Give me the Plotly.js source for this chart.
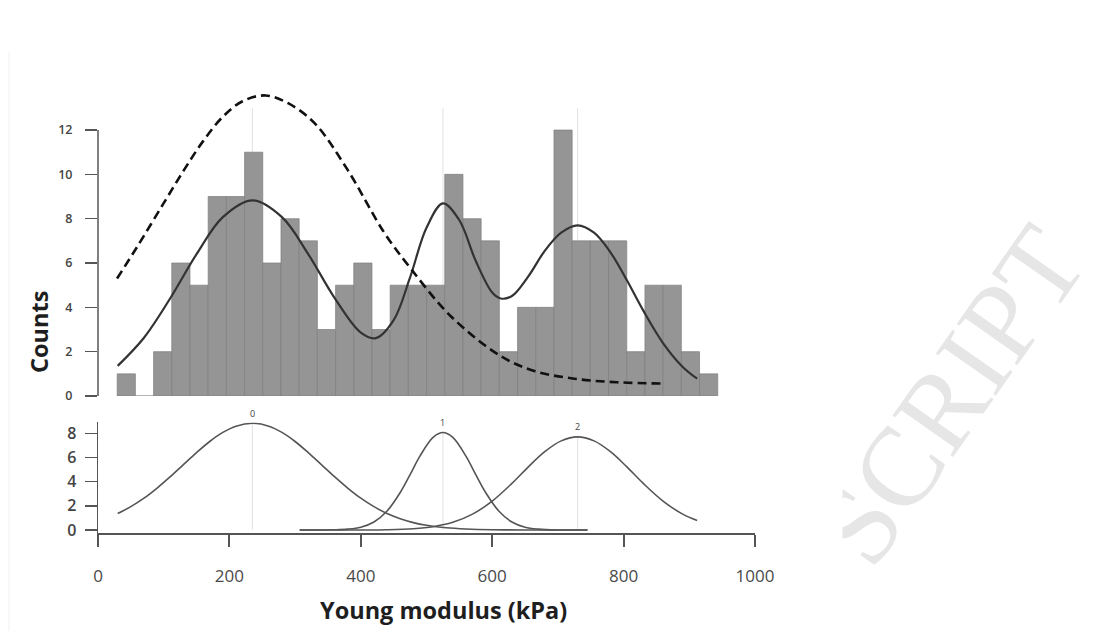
<!DOCTYPE html>
<html>
<head>
<meta charset="utf-8">
<script src="https://cdn.plot.ly/plotly-3.0.1.min.js"></script>
<style>html,body{margin:0;padding:0;background:#fff;}#chart{width:1113px;height:631px;}</style>
</head>
<body>
<div id="chart"></div>
<script>
// ---- Histogram of Young modulus (kPa) ----
const binStart = 29.2;          // left edge of first bin (kPa)
const binWidth = 27.7;          // bin width (kPa)
const counts = [1,0,2,6,5,9,9,11,6,8,7,3,5,6,3,5,5,5,10,8,7,2,4,4,12,7,7,7,2,5,5,2,1];

// ---- Mixture fit (sum of components), upper panel ----
const fitX = [30,70,110,150,190,235,280,320,360,400,423,450,475,500,525,550,575,600,613,630,655,680,705,730,755,780,805,830,860,890,912];
const fitY = [1.36,2.63,4.41,6.40,8.07,8.83,8.07,6.40,4.43,2.86,2.61,3.42,5.35,7.59,8.69,7.93,6.09,4.67,4.40,4.51,5.40,6.55,7.37,7.70,7.37,6.48,5.22,3.85,2.39,1.31,0.78];

// ---- Single-population fit (dashed), upper panel ----
const dashX = [29,60,100,131,160,190,220,255,290,330,380,435,476,537,613,664,725,790,862];
const dashY = [5.3,6.75,8.7,10.2,11.5,12.6,13.3,13.56,13.2,12.3,10.2,7.4,5.75,3.6,1.8,1.13,0.78,0.62,0.56];

// ---- Components, lower panel ----
const comp0X = [30,50,70,90,110,130,150,170,190,210,235,260,280,300,320,340,360,380,400,420,440,460,480,500,530,560,600,660,745];
const comp0Y = [1.36,1.93,2.63,3.47,4.41,5.41,6.40,7.32,8.07,8.59,8.83,8.59,8.07,7.32,6.40,5.41,4.41,3.47,2.63,1.93,1.36,0.93,0.61,0.39,0.18,0.08,0.02,0,0];
const comp1X = [307,360,380,400,420,440,460,475,490,510,525,540,560,575,590,610,630,650,670,700,745];
const comp1Y = [0,0.02,0.07,0.23,0.66,1.57,3.10,4.58,6.11,7.66,8.06,7.66,6.11,4.58,3.10,1.57,0.66,0.23,0.07,0,0];
const comp2X = [307,400,440,480,510,540,570,600,630,655,680,705,730,755,780,805,830,860,890,912];
const comp2Y = [0,0,0.02,0.10,0.27,0.63,1.31,2.39,3.85,5.22,6.48,7.37,7.70,7.37,6.48,5.22,3.85,2.39,1.31,0.78];

const compLabels = ['0','1','2'];
const compMeans = [235,525,730];
const compPeaks = [8.83,8.06,7.70];

const xTicks = [0,200,400,600,800,1000];
const yTicksTop = [0,2,4,6,8,10,12];
const yTicksBottom = [0,2,4,6,8];

const binCenters = counts.map((c,i)=>binStart + binWidth*(i+0.5));

const axisCol = '#555555';
const traces = [
  {type:'bar', x:binCenters, y:counts, width:binWidth, xaxis:'x', yaxis:'y',
   marker:{color:'#959595', line:{color:'#7e7e7e', width:0.7}}, hoverinfo:'x+y'},
  {type:'scatter', mode:'lines', x:fitX, y:fitY, xaxis:'x', yaxis:'y',
   line:{color:'#333333', width:2.2, shape:'spline', smoothing:1}},
  {type:'scatter', mode:'lines', x:dashX, y:dashY, xaxis:'x', yaxis:'y',
   line:{color:'#111111', width:2.6, dash:'9px,5px', shape:'spline', smoothing:1}},
  {type:'scatter', mode:'lines', x:comp0X, y:comp0Y, xaxis:'x', yaxis:'y2',
   line:{color:'#555555', width:1.6, shape:'spline', smoothing:1}},
  {type:'scatter', mode:'lines', x:comp1X, y:comp1Y, xaxis:'x', yaxis:'y2',
   line:{color:'#555555', width:1.6, shape:'spline', smoothing:1}},
  {type:'scatter', mode:'lines', x:comp2X, y:comp2Y, xaxis:'x', yaxis:'y2',
   line:{color:'#555555', width:1.6, shape:'spline', smoothing:1}}
];

const shapes = [];
// faint vertical lines at component means
compMeans.forEach((m,i)=>{
  shapes.push({type:'line', xref:'x', yref:'y', x0:m, x1:m, y0:0, y1:13, layer:'below',
               line:{color:'#e2e2e2', width:1}});
  shapes.push({type:'line', xref:'x', yref:'y2', x0:m, x1:m, y0:0, y1:compPeaks[i], layer:'below',
               line:{color:'#e2e2e2', width:1}});
});
// upper y-axis line (only spans the tick range 0..12)
shapes.push({type:'line', xref:'paper', yref:'y', x0:0, x1:0, y0:0, y1:12,
             line:{color:axisCol, width:1.5}});
// faint frame edge of the figure image
shapes.push({type:'line', xref:'paper', yref:'paper', x0:-0.1355, x1:-0.1355, y0:0, y1:0.9176,
             line:{color:'#f1f1f1', width:1}});

const annotations = [];
compLabels.forEach((t,i)=>{
  annotations.push({xref:'x', yref:'y2', x:compMeans[i], y:compPeaks[i], text:t, showarrow:false,
    yshift:10, font:{family:'Open Sans', size:9, color:'#444'}});
});
annotations.push({xref:'paper', yref:'paper', x:0.5266, y:0.0333, text:'Young modulus (kPa)',
  showarrow:false, xanchor:'center', yanchor:'middle',
  font:{family:'Open Sans', size:23.5, weight:700, color:'#1e1e1e'}});
annotations.push({xref:'paper', yref:'paper', x:-0.0898, y:0.4739, text:'Counts', textangle:-90,
  showarrow:false, xanchor:'center', yanchor:'middle',
  font:{family:'Open Sans', size:23.5, weight:700, color:'#1e1e1e'}});
// watermark
annotations.push({xref:'paper', yref:'paper', x:1.2968, y:0.3740, text:'SCRIPT', textangle:-55,
  showarrow:false, xanchor:'center', yanchor:'middle',
  font:{family:'Liberation Serif', size:112, color:'#e6e6e6'}});
annotations.push({xref:'paper', yref:'paper', x:1.0814, y:0.1197, text:' ', showarrow:false,
  width:67, height:151, bgcolor:'#ffffff', borderpad:0, xanchor:'center', yanchor:'middle'});

const layout = {
  width:1113, height:631,
  margin:{l:98, r:358, t:0, b:0, pad:0},
  paper_bgcolor:'#ffffff', plot_bgcolor:'rgba(0,0,0,0)',
  showlegend:false, bargap:0,
  font:{family:'Open Sans', color:'#444'},
  xaxis:{domain:[0,1], range:[0,1000], anchor:'y2', showline:true, linecolor:axisCol, linewidth:2,
    ticks:'outside', ticklen:12, tickwidth:2, tickcolor:axisCol, tickmode:'array', tickvals:xTicks,
    ticktext:xTicks.map(String), tickfont:{family:'Open Sans', size:17, color:'#4a4a4a'},
    ticklabelstandoff:15, showgrid:false, zeroline:false},
  yaxis:{domain:[0.37242,0.86418], range:[0,14], anchor:'x', showline:false,
    ticks:'outside', ticklen:12, tickwidth:1.5, tickcolor:axisCol, tickmode:'array', tickvals:yTicksTop,
    tickfont:{family:'Open Sans', size:12.5, weight:600, color:'#444'}, ticklabelstandoff:10,
    showgrid:false, zeroline:false},
  yaxis2:{domain:[0.15531,0.33059], range:[-0.25,8.9], anchor:'x', showline:true, linecolor:axisCol, linewidth:1.5,
    ticks:'outside', ticklen:12, tickwidth:1.5, tickcolor:axisCol, tickmode:'array', tickvals:yTicksBottom,
    tickfont:{family:'Open Sans', size:16, weight:600, color:'#444'}, ticklabelstandoff:5,
    showgrid:false, zeroline:false},
  shapes:shapes,
  annotations:annotations
};

Plotly.newPlot('chart', traces, layout, {staticPlot:true, displayModeBar:false});
</script>
</body>
</html>
